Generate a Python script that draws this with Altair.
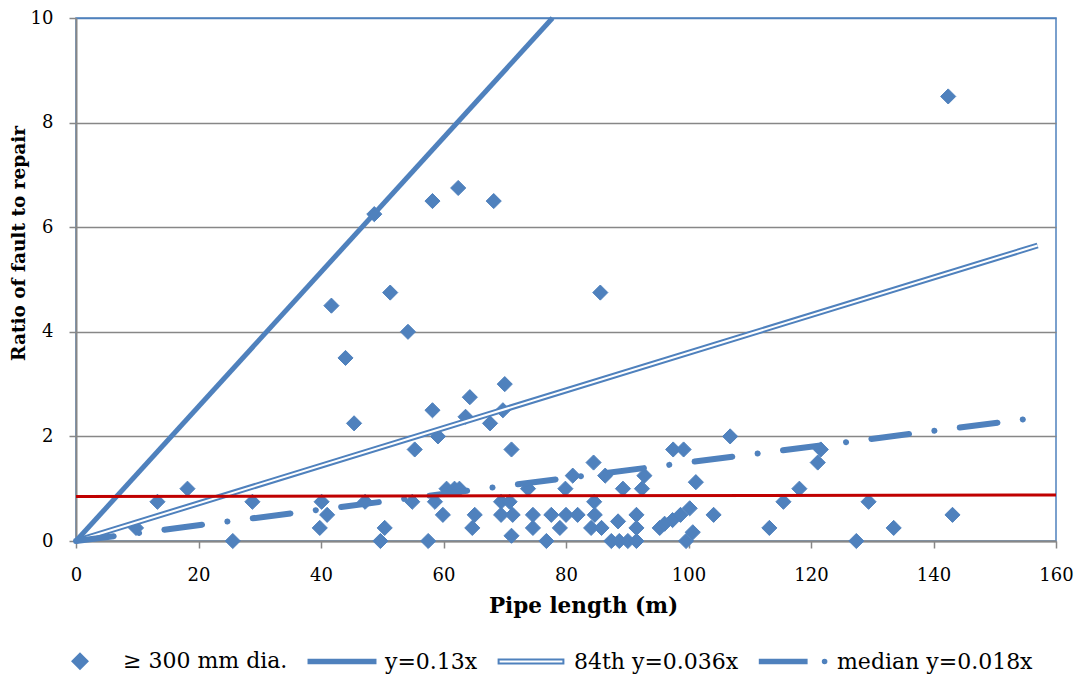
import altair as alt
import pandas as pd

BLUE = "#4F81BD"
RED = "#C00000"
GRAY = "#878787"
FONT = "DejaVu Serif"

# ---- data ----
pipe_length = [
    142.4, 48.7, 58.2, 62.4, 68.2, 41.7, 51.3, 85.6, 54.2, 44.0,
    70.0, 64.3, 45.4, 58.2, 63.6, 69.7, 67.6, 59.1, 55.3, 71.1,
    84.5, 97.5, 99.2, 106.8, 121.1, 121.6, 81.1, 86.4, 92.8, 101.2,
    118.1, 18.2, 60.5, 61.8, 62.6, 73.8, 79.9, 89.3, 92.4,
    13.3, 28.8, 40.1, 47.2, 54.9, 58.6, 69.4, 70.8, 84.6, 115.5, 129.4,
    41.0, 59.9, 65.1, 69.4, 71.3, 74.6, 77.6, 80.0, 81.9, 84.7, 91.5, 104.1, 143.1,
    95.3, 96.1, 97.4, 98.7, 100.2, 88.5,
    9.8, 39.8, 50.4, 64.7, 74.6, 79.0, 84.1, 85.8, 91.5, 113.2, 133.5,
    100.7, 71.1,
    25.6, 49.7, 57.5, 76.8, 87.4, 88.7, 90.1, 91.5, 99.6, 127.4,
]
ratio = [
    8.5, 6.25, 6.5, 6.75, 6.5, 4.5, 4.75, 4.75, 4.0, 3.5,
    3.0, 2.75, 2.25, 2.5, 2.375, 2.5, 2.25, 2.0, 1.75, 1.75,
    1.5, 1.75, 1.75, 2.0, 1.5, 1.75, 1.25, 1.25, 1.25, 1.125,
    1.0, 1.0, 1.0, 1.0, 1.0, 1.0, 1.0, 1.0, 1.0,
    0.75, 0.75, 0.75, 0.75, 0.75, 0.75, 0.75, 0.75, 0.75, 0.75, 0.75,
    0.5, 0.5, 0.5, 0.5, 0.5, 0.5, 0.5, 0.5, 0.5, 0.5, 0.5, 0.5, 0.5,
    0.25, 0.33, 0.4, 0.5, 0.625, 0.375,
    0.25, 0.25, 0.25, 0.25, 0.25, 0.25, 0.25, 0.25, 0.25, 0.25, 0.25,
    0.167, 0.1,
    0.0, 0.0, 0.0, 0.0, 0.0, 0.0, 0.0, 0.0, 0.0, 0.0,
]

fit013_x = [0, 77.8]
fit013_y = [0, 10]
fit84_x = [0, 157]
fit84_y = [0, 5.65]
fitmed_x = [0, 157]
fitmed_y = [0, 2.36]
red_x = [0, 160]
red_y = [0.85, 0.88]

x_ticks = [0, 20, 40, 60, 80, 100, 120, 140, 160]
y_ticks = [0, 2, 4, 6, 8, 10]

legend_labels = ["\u2265 300 mm dia.", "y=0.13x", "84th y=0.036x", "median y=0.018x"]

# legend symbol glyphs (unit paths) and fills
legend_paths = [
    "M0,-0.21L0.21,0L0,0.21L-0.21,0Z",
    "M-0.93,-0.05L0.93,-0.05L0.93,0.05L-0.93,0.05Z",
    "M-0.9,-0.055L0.9,-0.055L0.9,0.055L-0.9,0.055Z",
    "M-0.95,-0.05L0.35,-0.05L0.35,0.05L-0.95,0.05Z"
    "M0.9,0A0.05,0.05 0 1,1 0.8,0A0.05,0.05 0 1,1 0.9,0Z",
]
legend_fills = [BLUE, BLUE, "white", BLUE]
legend_strokes = [BLUE, BLUE, BLUE, BLUE]

pts = pd.DataFrame({"x": pipe_length, "y": ratio, "series": legend_labels[0]})
df013 = pd.DataFrame({"x": fit013_x, "y": fit013_y})
df84 = pd.DataFrame({"x": fit84_x, "y": fit84_y})
dfmed = pd.DataFrame({"x": fitmed_x, "y": fitmed_y})
dfred = pd.DataFrame({"x": red_x, "y": red_y})

x_enc = alt.X(
    "x:Q",
    scale=alt.Scale(domain=[0, 160], nice=False),
    axis=alt.Axis(
        values=x_ticks, title="Pipe length (m)", grid=False,
        labelFont=FONT, labelFontSize=18, labelColor="black",
        labelFlush=False, labelBaseline="alphabetic", labelPadding=32,
        tickSize=7, tickColor=GRAY, tickWidth=1.5,
        domainColor=GRAY, domainWidth=2,
        titleFont=FONT, titleFontSize=21.5, titleFontWeight="bold", titleColor="black",
        titleX=507, titleY=71, titleBaseline="alphabetic", titleAlign="center",
    ),
)
y_enc = alt.Y(
    "y:Q",
    scale=alt.Scale(domain=[0, 10], nice=False),
    axis=alt.Axis(
        values=y_ticks, title="Ratio of fault to repair", grid=True,
        gridColor={"condition": {"test": "datum.value === 10", "value": BLUE}, "value": GRAY},
        gridWidth=1.5,
        labelFont=FONT, labelFontSize=18, labelColor="black",
        labelFlush=False, labelBaseline="middle", labelAlign="right", labelPadding=16,
        tickSize=7, tickColor=GRAY, tickWidth=1.5,
        domainColor=GRAY, domainWidth=2,
        titleFont=FONT, titleFontSize=18.5, titleFontWeight="bold", titleColor="black",
        titleX=-52, titleY=225, titleAngle=270, titleBaseline="alphabetic", titleAlign="center",
    ),
)

leg = alt.Legend(
    title=None, orient="none", legendX=-33, legendY=606,
    direction="horizontal", columns=4,
    labelFont=FONT, labelFontSize=22, labelColor="black", labelOffset=6, labelLimit=400,
    columnPadding=16, symbolSize=5184, symbolStrokeWidth=2, symbolStrokeColor=BLUE,
    symbolOpacity=1, padding=0,
)

points = alt.Chart(pts).mark_point(
    filled=True, size=5184, stroke=BLUE, strokeWidth=1, opacity=1
).encode(
    x=x_enc, y=y_enc,
    shape=alt.Shape("series:N", scale=alt.Scale(domain=legend_labels, range=legend_paths), legend=leg),
    fill=alt.Fill("series:N", scale=alt.Scale(domain=legend_labels, range=legend_fills), legend=leg),
    stroke=alt.Stroke("series:N", scale=alt.Scale(domain=legend_labels, range=legend_strokes), legend=leg),
)

line013 = alt.Chart(df013).mark_line(color=BLUE, strokeWidth=5).encode(x=x_enc, y=y_enc)
line84o = alt.Chart(df84).mark_line(color=BLUE, strokeWidth=6).encode(x=x_enc, y=y_enc)
line84i = alt.Chart(df84).mark_line(color="white", strokeWidth=2).encode(x=x_enc, y=y_enc)
linemed = alt.Chart(dfmed).mark_line(
    color=BLUE, strokeWidth=6, strokeDash=[38, 25.5, 0.1, 25.5], strokeCap="round"
).encode(x=x_enc, y=y_enc)
linered = alt.Chart(dfred).mark_line(color=RED, strokeWidth=3).encode(x=x_enc, y=y_enc)

chart = alt.layer(points, line013, line84o, line84i, linemed, linered).properties(
    width=980, height=523,
    autosize=alt.AutoSizeParams(type="none"),
    padding={"left": 76, "top": 18, "right": 23, "bottom": 144},
    background="white",
).configure_view(stroke=BLUE, strokeWidth=1.5)

chart.save("out.html", embed_options={"renderer": "svg", "actions": False})
